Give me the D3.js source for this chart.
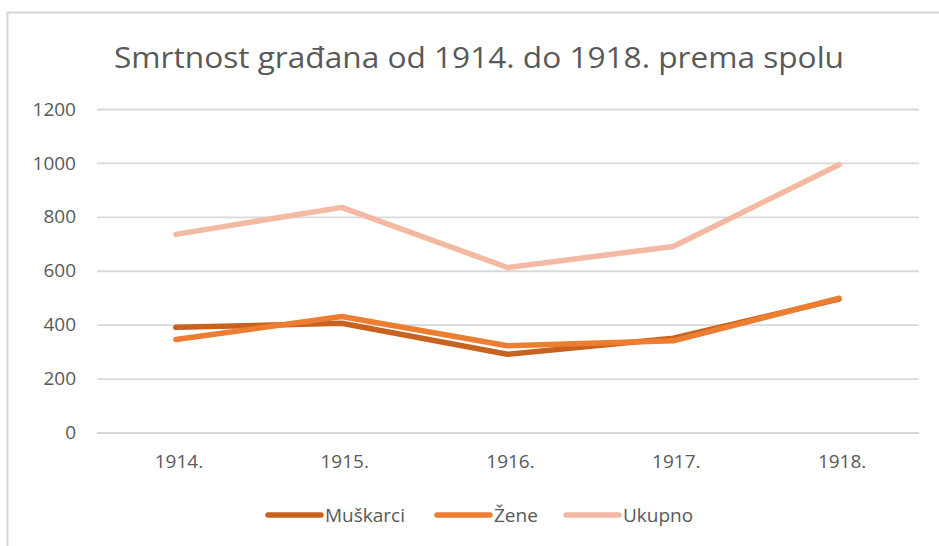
<!DOCTYPE html>
<html><head><meta charset="utf-8">
<script src="https://cdn.jsdelivr.net/npm/d3@7"></script>
<style>html,body{margin:0;padding:0;background:#fff;}svg{display:block;}</style>
</head><body>
<svg id="c" width="939" height="546"></svg>
<script>
const title = "Smrtnost građana od 1914. do 1918. prema spolu";
const years = ["1914.", "1915.", "1916.", "1917.", "1918."];
const muskarci = [390, 405, 290, 350, 495];
const zene = [345, 430, 322, 340, 498];
const ukupno = [735, 835, 612, 690, 993];
const yTicks = [0, 200, 400, 600, 800, 1000, 1200];
const seriesNames = ["Muškarci", "Žene", "Ukupno"];
const seriesColors = ["#c8631f", "#ed7d31", "#f4b9a2"];

const svg = d3.select("#c");
const font = "'Open Sans', 'Noto Sans', sans-serif";
svg.append("rect").attr("x", 7.5).attr("y", 12.5).attr("width", 940).attr("height", 540)
  .attr("fill", "#fff").attr("stroke", "#d9d6d3").attr("stroke-width", 2);

const plot = {left: 93, right: 922, top: 109, bottom: 432.5};
const x = d3.scaleBand().domain(years).range([plot.left, plot.right]);
const y = d3.scaleLinear().domain([0, 1200]).range([plot.bottom, plot.top]);

svg.append("text").attr("x", 479).attr("y", 68).attr("text-anchor", "middle")
  .attr("font-family", font).attr("font-size", 30).attr("fill", "#595959")
  .attr("textLength", 730).attr("lengthAdjust", "spacingAndGlyphs").text(title);

// gridlines
const yAxis = d3.axisLeft(y).tickValues(yTicks).tickFormat(d3.format("d"))
  .tickSize(-(919 - 97)).tickPadding(21);
const gy = svg.append("g").attr("transform", `translate(97,0)`).call(yAxis);
gy.select(".domain").remove();
gy.selectAll(".tick line").attr("stroke", "#d9d9d9").attr("stroke-width", 1.8);
gy.selectAll(".tick text").attr("font-family", font).attr("font-size", 19).attr("fill", "#595959");

const xAxis = d3.axisBottom(x).tickSize(0).tickPadding(22);
const gx = svg.append("g").attr("transform", `translate(3,${plot.bottom})`).call(xAxis);
gx.select(".domain").remove();
gx.selectAll(".tick text").attr("font-family", font).attr("font-size", 19).attr("fill", "#595959");

const line = d3.line().x((d, i) => x(years[i]) + x.bandwidth() / 2).y(d => y(d));
const data = [muskarci, zene, ukupno];
// draw order: Ukupno, Muskarci, Zene
[2, 0, 1].forEach(k => {
  svg.append("path").datum(data[k]).attr("d", line).attr("fill", "none")
    .attr("stroke", seriesColors[k]).attr("stroke-width", 5.5)
    .attr("stroke-linejoin", "round").attr("stroke-linecap", "round");
});

// legend
const legendX = [268, 437, 566];
seriesNames.forEach((n, i) => {
  const g = svg.append("g").attr("transform", `translate(${legendX[i]},515)`);
  g.append("line").attr("x1", 0).attr("x2", 53).attr("stroke", seriesColors[i])
    .attr("stroke-width", 5.5).attr("stroke-linecap", "round");
  g.append("text").attr("x", 57).attr("y", 7).attr("font-family", font).attr("font-size", 19)
    .attr("fill", "#595959").text(n);
});
</script>
</body></html>
